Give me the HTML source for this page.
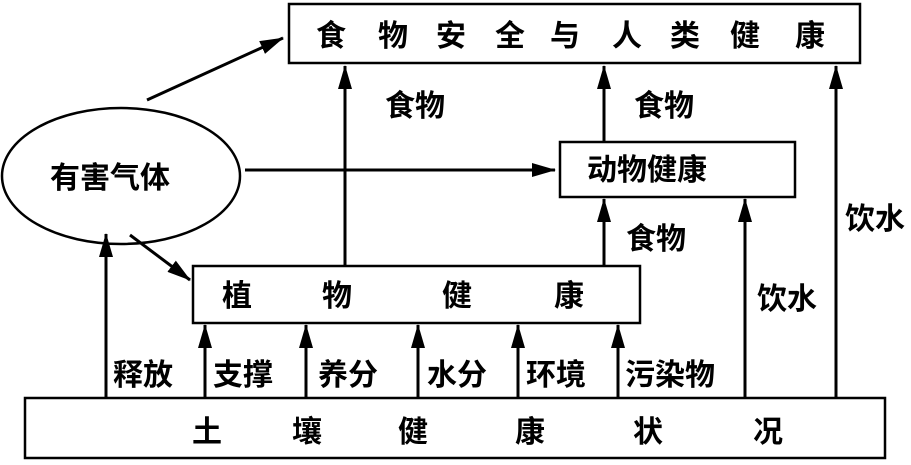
<!DOCTYPE html>
<html><head><meta charset="utf-8"><style>
html,body{margin:0;padding:0;background:#fff}
svg{display:block}
text{font-family:"Liberation Sans","Noto Sans CJK SC",sans-serif;font-weight:bold;font-size:30px;fill:#000}
</style></head><body>
<svg width="911" height="465" viewBox="0 0 911 465" xmlns="http://www.w3.org/2000/svg">
<defs>
<marker id="b" markerWidth="24" markerHeight="14" refX="23" refY="7" orient="auto" markerUnits="userSpaceOnUse"><path d="M0,0 L24,7 L0,14 z" fill="#000"/></marker></defs>
<g stroke="#000" stroke-width="2.5" fill="none">
<rect x="289" y="4" width="571" height="59"/>
<rect x="560" y="142" width="235" height="55"/>
<rect x="193" y="266" width="447" height="57"/>
<rect x="25" y="398" width="860" height="60"/>
<ellipse cx="121" cy="176" rx="119" ry="68"/>
</g>
<g stroke="#000" stroke-width="3" fill="none" marker-end="url(#b)">
<line x1="106" y1="397" x2="106" y2="234"/>
<line x1="205" y1="397" x2="205" y2="325"/>
<line x1="306" y1="397" x2="306" y2="325"/>
<line x1="418" y1="397" x2="418" y2="325"/>
<line x1="518" y1="397" x2="518" y2="325"/>
<line x1="618" y1="397" x2="618" y2="325"/>
<line x1="745" y1="397" x2="745" y2="199"/>
<line x1="836" y1="397" x2="836" y2="66"/>
<line x1="345" y1="265" x2="345" y2="66"/>
<line x1="604" y1="265" x2="604" y2="199"/>
<line x1="604" y1="141" x2="604" y2="66"/>
<line x1="245" y1="170" x2="555" y2="170"/>
<line x1="147" y1="100" x2="283" y2="38"/>
<line x1="130" y1="235" x2="190" y2="280"/>
</g>
<text x="316" y="46">食</text><text x="378" y="46">物</text><text x="436" y="46">安</text><text x="495" y="46">全</text><text x="550" y="46">与</text><text x="612" y="46">人</text><text x="670" y="46">类</text><text x="730" y="46">健</text><text x="795" y="46">康</text>
<text x="50" y="188">有害气体</text>
<text x="587" y="180">动物健康</text>
<text x="222" y="306">植</text><text x="322" y="306">物</text><text x="442" y="306">健</text><text x="554" y="306">康</text>
<text x="192" y="442">土</text><text x="292" y="442">壤</text><text x="398" y="442">健</text><text x="515" y="442">康</text><text x="633" y="442">状</text><text x="753" y="442">况</text>
<text x="385" y="116">食物</text>
<text x="634" y="116">食物</text>
<text x="626" y="249">食物</text>
<text x="757" y="309">饮水</text>
<text x="845" y="229">饮水</text>
<text x="113" y="385">释放</text>
<text x="213" y="385">支撑</text>
<text x="318" y="385">养分</text>
<text x="427" y="385">水分</text>
<text x="526" y="385">环境</text>
<text x="625" y="385">污染物</text>
</svg>
</body></html>
